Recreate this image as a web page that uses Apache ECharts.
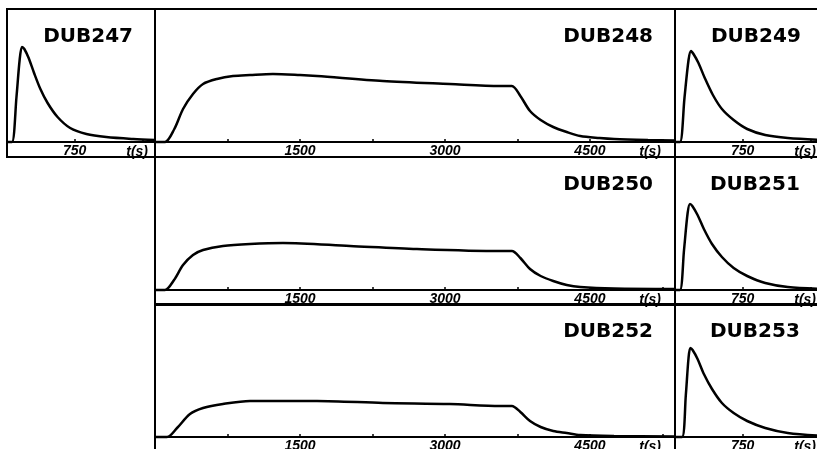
<!DOCTYPE html>
<html>
<head>
<meta charset="utf-8">
<script src="https://cdn.jsdelivr.net/npm/echarts@6/dist/echarts.min.js"></script>
<style>
  html, body { margin: 0; padding: 0; background: #fff; }
  #chart { width: 817px; height: 449px; }
</style>
</head>
<body>
<div id="chart"></div>
<script>
// time (s) and relative signal
const dub247Time = [0, 55, 105, 140, 166, 192, 240, 300, 370, 450, 560, 700, 880, 1100, 1400, 1640];
const dub247Value = [0, 0, 45, 82, 95, 93, 84, 69, 53, 39, 25, 14, 8, 5, 3, 2];

const dub248Time = [0, 103, 200, 290, 393, 497, 641, 807, 983, 1220, 1500, 1676, 2358, 3050, 3568, 3692, 3780, 3880, 3990, 4120, 4260, 4400, 4600, 4750, 5100, 5380];
const dub248Value = [0, 0, 13, 33, 48, 58, 63, 66, 67, 68, 67, 66, 61, 58, 56, 56, 46, 31, 22, 15, 10, 6, 4, 3, 2, 1.5];

const dub249Time = [0, 55, 105, 150, 177, 205, 260, 330, 420, 520, 650, 800, 1000, 1250, 1640];
const dub249Value = [0, 0, 44, 82, 91, 88, 79, 64, 47, 33, 22, 13, 7, 4, 2];

const dub250Time = [0, 103, 197, 290, 393, 497, 703, 983, 1324, 2017, 2710, 3568, 3692, 3780, 3880, 3990, 4120, 4260, 4400, 4750, 5380];
const dub250Value = [0, 0, 10, 25, 35, 40, 44, 46, 47, 44, 41, 39, 39, 32, 21, 14, 9, 5, 3, 1.5, 1];

const dub251Time = [0, 55, 100, 140, 166, 192, 250, 320, 410, 520, 650, 800, 1000, 1250, 1640];
const dub251Value = [0, 0, 40, 77, 86, 84, 75, 61, 46, 33, 22, 14, 7, 3, 1];

const dub252Time = [0, 124, 228, 362, 497, 703, 983, 1676, 2358, 3050, 3568, 3692, 3780, 3880, 3990, 4120, 4260, 4400, 4750, 5380];
const dub252Value = [0, 0, 9, 23, 29, 33, 36, 36, 34, 33, 31, 31, 25, 16, 10, 6, 4, 2, 1, 0.5];

const dub253Time = [0, 78, 120, 150, 170, 195, 250, 320, 410, 520, 650, 800, 1000, 1250, 1640];
const dub253Value = [0, 0, 42, 79, 89, 87, 78, 63, 48, 34, 24, 16, 9, 4, 1];

const longTickLabels = [1500, 3000, 4500];
const shortTickLabels = [750];

const chart = echarts.init(document.getElementById('chart'));

// panel layout: [left, top, width] and where the title sits
const panels = [
  { name: 'DUB247', t: dub247Time, v: dub247Value, box: [7, 9, 148], long: false, title: { right: 684, top: 27 } },
  { name: 'DUB248', t: dub248Time, v: dub248Value, box: [155, 9, 520], long: true, title: { right: 164, top: 27 } },
  { name: 'DUB249', t: dub249Time, v: dub249Value, box: [675, 9, 148], long: false, title: { left: 711, top: 27 } },
  { name: 'DUB250', t: dub250Time, v: dub250Value, box: [155, 157, 520], long: true, title: { right: 164, top: 175 } },
  { name: 'DUB251', t: dub251Time, v: dub251Value, box: [675, 157, 148], long: false, title: { left: 710, top: 175 } },
  { name: 'DUB252', t: dub252Time, v: dub252Value, box: [155, 304, 520], long: true, title: { right: 164, top: 322 } },
  { name: 'DUB253', t: dub253Time, v: dub253Value, box: [675, 304, 148], long: false, title: { left: 710, top: 322 } }
];

const labelFont = {
  color: '#000',
  fontFamily: 'Liberation Sans',
  fontStyle: 'italic',
  fontWeight: 'bold',
  fontSize: 14
};

const option = {
  animation: false,
  backgroundColor: '#fff',
  title: panels.map(p => Object.assign({
    text: p.name,
    padding: 0,
    textStyle: {
      color: '#000',
      fontFamily: 'DejaVu Sans',
      fontWeight: 'bold',
      fontSize: 20
    }
  }, p.title)),
  grid: panels.map(p => ({
    left: p.box[0],
    top: p.box[1],
    width: p.box[2],
    height: 148,
    show: true,
    borderColor: '#000',
    borderWidth: 2,
    backgroundColor: 'transparent',
    containLabel: false,
    outerBoundsMode: 'none'
  })),
  xAxis: panels.map((p, i) => {
    const shown = p.long ? longTickLabels : shortTickLabels;
    return {
      type: 'value',
      gridIndex: i,
      min: 0,
      max: p.long ? 5380 : 1640,
      interval: 750,
      splitLine: { show: false },
      axisLine: { onZero: true, lineStyle: { color: '#000', width: 2 } },
      axisTick: { show: true, inside: true, length: 3, lineStyle: { color: '#000', width: 1.5 } },
      axisLabel: Object.assign({
        inside: true,
        margin: -1,
        showMinLabel: true,
        showMaxLabel: true,
        hideOverlap: false,
        formatter: val => shown.indexOf(val) >= 0 ? String(val) : ''
      }, labelFont),
      name: 't(s)',
      nameLocation: 'end',
      nameGap: p.long ? -14 : -7,
      nameMoveOverlap: false,
      nameTextStyle: Object.assign({ align: 'right', verticalAlign: 'top', padding: [3, 0, 0, 0] }, labelFont)
    };
  }),
  yAxis: panels.map((p, i) => ({
    type: 'value',
    gridIndex: i,
    min: -15,
    max: 133,
    show: false
  })),
  series: panels.map((p, i) => ({
    name: p.name,
    type: 'line',
    xAxisIndex: i,
    yAxisIndex: i,
    data: p.t.map((t, k) => [t, p.v[k]]),
    smooth: 0.3,
    symbol: 'none',
    lineStyle: { color: '#000', width: 2.5 }
  }))
};

chart.setOption(option);
</script>
</body>
</html>
